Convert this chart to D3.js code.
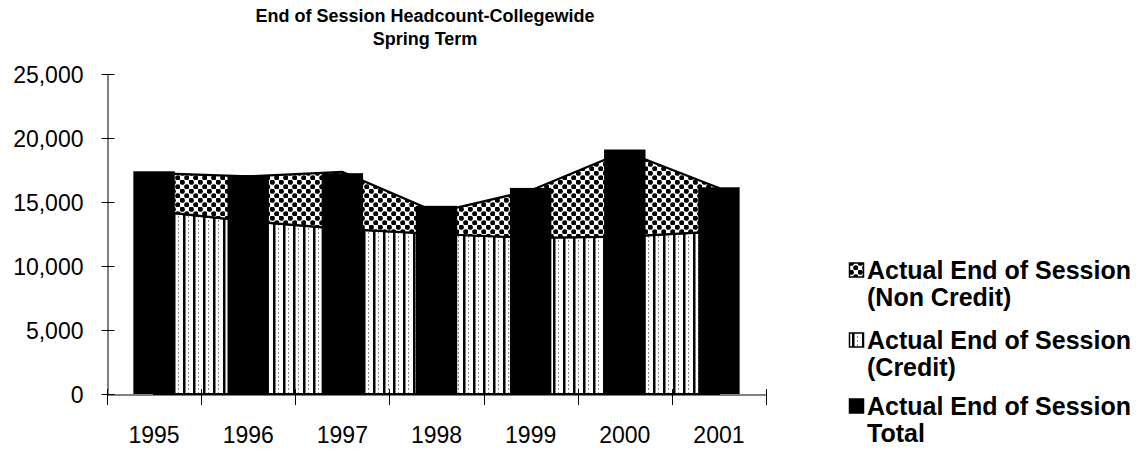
<!DOCTYPE html>
<html><head><meta charset="utf-8">
<script src="https://cdn.jsdelivr.net/npm/d3@7"></script>
<style>
body{margin:0;background:#fff}
svg{display:block}
text{font-family:"Liberation Sans",Arial,sans-serif;fill:#000}
</style>
</head><body>
<svg id="c" width="1147" height="451"></svg>
<script>
const years = ['1995','1996','1997','1998','1999','2000','2001'];
const credit = [14300, 13500, 12900, 12500, 12200, 12300, 12700];
const nonCredit = [2950, 3500, 4450, 1700, 3700, 6650, 3400];
const total = [17400, 17100, 17250, 14700, 16100, 19100, 16150];
const yTicks = [0, 5000, 10000, 15000, 20000, 25000];
const titleLines = ['End of Session Headcount-Collegewide', 'Spring Term'];
const legendItems = [
  {key:'nonCredit', lines:['Actual End of Session','(Non Credit)']},
  {key:'credit', lines:['Actual End of Session','(Credit)']},
  {key:'total', lines:['Actual End of Session','Total']}
];

const svg = d3.select('#c');
const defs = svg.append('defs');
const chk = defs.append('pattern').attr('id','chk').attr('patternUnits','userSpaceOnUse').attr('width',9).attr('height',9);
chk.append('rect').attr('width',9).attr('height',9).attr('fill','#fff');
chk.append('circle').attr('cx',2.25).attr('cy',2.25).attr('r',2.6).attr('fill','#000');
chk.append('circle').attr('cx',6.75).attr('cy',6.75).attr('r',2.6).attr('fill','#000');
const str = defs.append('pattern').attr('id','str').attr('patternUnits','userSpaceOnUse').attr('width',10).attr('height',4);
str.append('rect').attr('width',10).attr('height',4).attr('fill','#fff');
str.append('rect').attr('x',3).attr('width',2.5).attr('height',4).attr('fill','#000');
str.append('rect').attr('x',8).attr('width',1).attr('height',2).attr('fill','#888');

const x = d3.scaleBand().domain(years).range([107, 766]);
const y = d3.scaleLinear().domain([0, 25000]).range([394, 74]);
const cx = d => x(d) + x.bandwidth() / 2;

// stacked areas
const rows = years.map((yr, i) => ({year: yr, credit: credit[i], nonCredit: nonCredit[i]}));
const series = d3.stack().keys(['credit', 'nonCredit'])(rows);
const area = d3.area().x((d, i) => cx(years[i])).y0(d => y(d[0])).y1(d => y(d[1]));
svg.append('path').datum(series[0]).attr('d', area).attr('fill', 'url(#str)').attr('stroke', '#000').attr('stroke-width', 2);
svg.append('path').datum(series[1]).attr('d', area).attr('fill', 'url(#chk)').attr('stroke', '#000').attr('stroke-width', 2.2);

// bars
const bw = x.bandwidth() * 0.44;
svg.selectAll('rect.bar').data(years).join('rect').attr('class', 'bar')
  .attr('x', d => cx(d) - bw / 2).attr('y', (d, i) => y(total[i]))
  .attr('width', bw).attr('height', (d, i) => y(0) - y(total[i])).attr('fill', '#000');

// y axis
const ya = svg.append('g').attr('transform', 'translate(107.5,0)')
  .call(d3.axisLeft(y).tickValues(yTicks).tickFormat(d3.format(',')).tickSizeOuter(0));
ya.select('.domain').attr('stroke', '#000');
ya.selectAll('.tick line').attr('x1', -6).attr('x2', 7).attr('stroke', '#000');
ya.selectAll('.tick text').attr('x', -24).attr('dy', '0.36em').style('font-size', '23px').style('font-family', '"Liberation Sans",Arial,sans-serif');

// x axis
const xa = svg.append('g').attr('transform', 'translate(0,394.5)')
  .call(d3.axisBottom(x).tickSize(0).tickSizeOuter(0));
xa.select('.domain').attr('stroke', '#000');
xa.selectAll('.tick text').attr('y', 0).attr('dy', '48px').style('font-size', '23px').style('font-family', '"Liberation Sans",Arial,sans-serif');
const bounds = years.map(d => x(d)).concat([x.range()[1]]);
svg.append('g').selectAll('line').data(bounds).join('line')
  .attr('x1', d => Math.round(d) + 0.5).attr('x2', d => Math.round(d) + 0.5)
  .attr('y1', 389).attr('y2', 405).attr('stroke', '#000');

// title
svg.append('g').selectAll('text').data(titleLines).join('text')
  .attr('x', 425).attr('y', (d, i) => 22 + i * 23).attr('text-anchor', 'middle')
  .style('font-size', '18px').style('font-weight', 'bold').text(d => d);

// legend
const lg = svg.append('g').attr('transform', 'translate(849,0)');
const itemY = [270, 340, 406];
const fills = {nonCredit: 'url(#chk)', credit: 'url(#str)', total: '#000'};
legendItems.forEach((it, k) => {
  const g = lg.append('g').attr('transform', `translate(0,${itemY[k]})`);
  g.append('rect').attr('x', 0.5).attr('y', -7).attr('width', 14).attr('height', 14)
    .attr('fill', fills[it.key]).attr('stroke', '#000').attr('stroke-width', 1.5);
  g.selectAll('text').data(it.lines).join('text')
    .attr('x', 18).attr('y', (d, i) => 9 + i * 27)
    .style('font-size', '25px').style('font-weight', 'bold').text(d => d);
});
</script>
</body></html>
